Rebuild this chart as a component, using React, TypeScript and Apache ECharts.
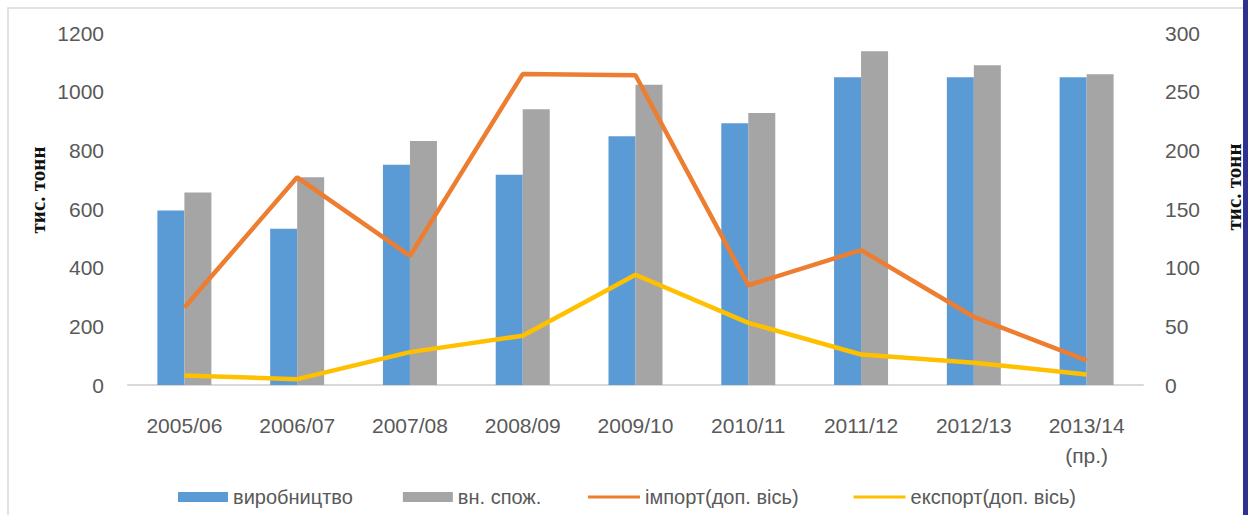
import React, { useEffect, useRef } from "react";
import * as echarts from "echarts";

const categories = ["2005/06", "2006/07", "2007/08", "2008/09", "2009/10", "2010/11", "2011/12", "2012/13", "2013/14\n(пр.)"];
const production = [595, 533, 751, 717, 848, 892, 1049, 1049, 1049];
const consumption = [656, 708, 832, 940, 1024, 927, 1138, 1090, 1059];
const imports = [66, 177, 110, 265, 264, 85, 115, 58, 21];
const exports = [8, 5, 28, 42, 94, 53, 26, 19, 9];
const seriesNames = ["виробництво", "вн. спож.", "імпорт(доп. вісь)", "експорт(доп. вісь)"];
const axisName = "тис. тонн";

const FONT = "'Liberation Sans', Arial, sans-serif";
const SERIF = "'Liberation Serif', 'DejaVu Serif', serif";

export default function App() {
  const ref = useRef<HTMLDivElement>(null);
  useEffect(() => {
    if (!ref.current) return;
    const chart = echarts.init(ref.current, null, { renderer: "svg" });
    const legendText = { fontSize: 20, color: "#595959", fontFamily: FONT };
    chart.setOption({
      animation: false,
      backgroundColor: "#ffffff",
      textStyle: { fontFamily: FONT },
      grid: { left: 128, right: 105, top: 33, bottom: 130, containLabel: false },
      legend: [
        {
          left: 178,
          top: 487,
          padding: 0,
          itemWidth: 50,
          itemHeight: 10,
          itemGap: 50,
          icon: "rect",
          textStyle: legendText,
          data: [seriesNames[0], seriesNames[1]],
        },
        {
          left: 588,
          top: 487,
          padding: 0,
          itemWidth: 52,
          itemHeight: 3,
          itemGap: 55,
          icon: "rect",
          textStyle: legendText,
          data: [seriesNames[2], seriesNames[3]],
        },
      ],
      xAxis: {
        type: "category",
        data: categories,
        axisLine: { lineStyle: { color: "#d9d9d9", width: 2 } },
        axisTick: { show: false },
        axisLabel: { color: "#595959", fontSize: 21, margin: 25, lineHeight: 30, fontFamily: FONT },
      },
      yAxis: [
        {
          type: "value",
          min: 0,
          max: 1200,
          interval: 200,
          axisLine: { show: false },
          axisTick: { show: false },
          splitLine: { show: false },
          axisLabel: {
            color: "#595959",
            fontSize: 21,
            margin: 24,
            fontFamily: FONT,
            formatter: (v: number) => String(v),
          },
        },
        {
          type: "value",
          min: 0,
          max: 300,
          interval: 50,
          axisLine: { show: false },
          axisTick: { show: false },
          splitLine: { show: false },
          axisLabel: {
            color: "#595959",
            fontSize: 21,
            margin: 22,
            fontFamily: FONT,
            formatter: (v: number) => String(v),
          },
        },
      ],
      series: [
        {
          name: seriesNames[0],
          type: "bar",
          data: production,
          barWidth: 27,
          barGap: "0%",
          itemStyle: { color: "#5b9bd5" },
        },
        {
          name: seriesNames[1],
          type: "bar",
          data: consumption,
          barWidth: 27,
          barGap: "0%",
          itemStyle: { color: "#a5a5a5" },
        },
        {
          name: seriesNames[2],
          type: "line",
          yAxisIndex: 1,
          data: imports,
          symbol: "none",
          lineStyle: { color: "#ed7d31", width: 4.5 },
          itemStyle: { color: "#ed7d31" },
        },
        {
          name: seriesNames[3],
          type: "line",
          yAxisIndex: 1,
          data: exports,
          symbol: "none",
          lineStyle: { color: "#ffc000", width: 4.5 },
          itemStyle: { color: "#ffc000" },
        },
      ],
      graphic: [
        {
          type: "rect",
          shape: { x: 8, y: 8, width: 1250, height: 530 },
          style: { fill: "none", stroke: "#d9d9d9", lineWidth: 1.5 },
          silent: true,
        },
        {
          type: "rect",
          shape: { x: 1243, y: 0, width: 5, height: 515 },
          style: { fill: "#2f3192" },
          silent: true,
        },
        {
          type: "text",
          x: 38,
          y: 190,
          rotation: Math.PI / 2,
          style: {
            text: axisName,
            fontFamily: SERIF,
            fontWeight: "bold",
            fontSize: 21,
            fill: "#111111",
            align: "center",
            verticalAlign: "middle",
          },
        },
        {
          type: "text",
          x: 1234,
          y: 187,
          rotation: Math.PI / 2,
          style: {
            text: axisName,
            fontFamily: SERIF,
            fontWeight: "bold",
            fontSize: 21,
            fill: "#111111",
            align: "center",
            verticalAlign: "middle",
          },
        },
      ],
    });
    return () => chart.dispose();
  }, []);
  return (
    <div
      ref={ref}
      style={{ position: "fixed", left: 0, top: 0, width: 1248, height: 515, background: "#fff" }}
    />
  );
}
